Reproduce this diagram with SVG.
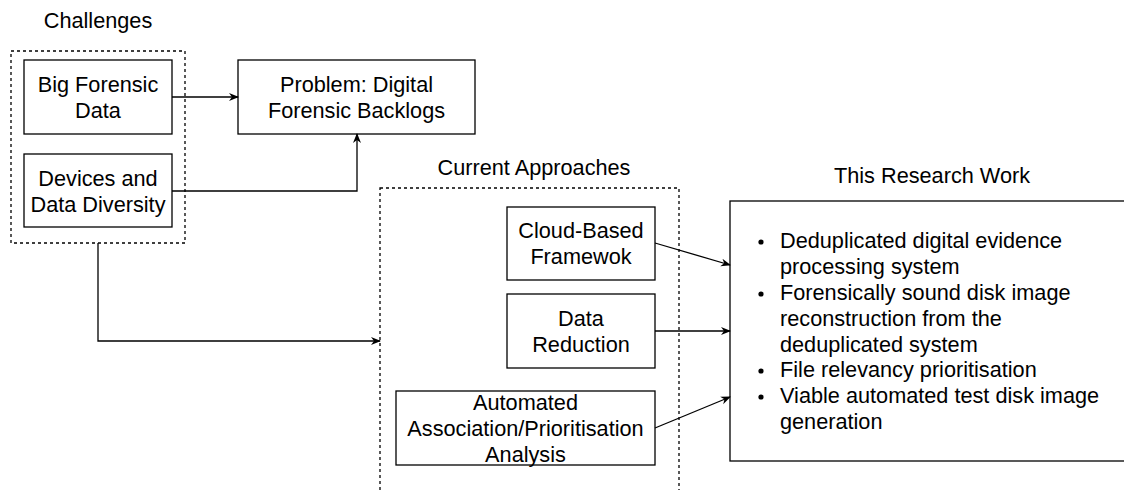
<svg xmlns="http://www.w3.org/2000/svg" width="1124" height="490" viewBox="0 0 1124 490">
  <defs>
    <marker id="arrow" markerWidth="10" markerHeight="10" refX="9" refY="5" orient="auto" markerUnits="userSpaceOnUse">
      <path d="M0,1 L10,5 L0,9 L3,5 Z" fill="#000"/>
    </marker>
  </defs>
  <style>
    .box { fill: #fff; stroke: #000; stroke-width: 1.3; }
    .group { fill: none; stroke: #000; stroke-width: 1.3; stroke-dasharray: 3 3; }
    .edge { fill: none; stroke: #000; stroke-width: 1.3; marker-end: url(#arrow); }
    text { font-family: "Liberation Sans", Arial, Helvetica, sans-serif; font-size: 21.7px; fill: #000; }
    .c { text-anchor: middle; }
  </style>

  <rect width="1124" height="490" fill="#fff"/>

  <!-- group containers -->
  <g id="challenges">
    <text class="c" x="98" y="28">Challenges</text>
    <rect class="group" x="11" y="51" width="174" height="192"/>
  </g>
  <g id="current-approaches">
    <text class="c" x="534" y="175">Current Approaches</text>
    <rect class="group" x="380" y="188" width="299" height="320"/>
  </g>

  <!-- nodes -->
  <g id="big-forensic-data">
    <rect class="box" x="24" y="60" width="148" height="74"/>
    <text class="c" x="98" y="92">Big Forensic</text>
    <text class="c" x="98" y="118">Data</text>
  </g>
  <g id="devices-data-diversity">
    <rect class="box" x="24" y="154" width="148" height="73"/>
    <text class="c" x="98" y="186">Devices and</text>
    <text class="c" x="98" y="212">Data Diversity</text>
  </g>
  <g id="problem">
    <rect class="box" x="238" y="60" width="237" height="74"/>
    <text class="c" x="356.5" y="92">Problem: Digital</text>
    <text class="c" x="356.5" y="118">Forensic Backlogs</text>
  </g>
  <g id="cloud-based">
    <rect class="box" x="507" y="207" width="148" height="73"/>
    <text class="c" x="581" y="238">Cloud-Based</text>
    <text class="c" x="581" y="264">Framewok</text>
  </g>
  <g id="data-reduction">
    <rect class="box" x="507" y="294" width="148" height="74"/>
    <text class="c" x="581" y="326">Data</text>
    <text class="c" x="581" y="352">Reduction</text>
  </g>
  <g id="automated-analysis">
    <rect class="box" x="396" y="391" width="259" height="74"/>
    <text class="c" x="525.5" y="410">Automated</text>
    <text class="c" x="525.5" y="436">Association/Prioritisation</text>
    <text class="c" x="525.5" y="462">Analysis</text>
  </g>
  <g id="research-work">
    <text class="c" x="932" y="183">This Research Work</text>
    <rect class="box" x="730" y="201" width="420" height="260"/>
    <g fill="#000">
      <circle cx="761" cy="242" r="2.6"/>
      <circle cx="761" cy="294" r="2.6"/>
      <circle cx="761" cy="371" r="2.6"/>
      <circle cx="761" cy="397" r="2.6"/>
    </g>
    <text x="780" y="248">Deduplicated digital evidence</text>
    <text x="780" y="274">processing system</text>
    <text x="780" y="300">Forensically sound disk image</text>
    <text x="780" y="325.5">reconstruction from the</text>
    <text x="780" y="351.5">deduplicated system</text>
    <text x="780" y="377">File relevancy prioritisation</text>
    <text x="780" y="403">Viable automated test disk image</text>
    <text x="780" y="428.5">generation</text>
  </g>

  <!-- connectors -->
  <g id="connectors">
    <path class="edge" d="M172,97 H238"/>
    <path class="edge" d="M172,191 H357 V134"/>
    <path class="edge" d="M98,243 V341 H380"/>
    <path class="edge" d="M655,243 L730,265"/>
    <path class="edge" d="M655,331 H730"/>
    <path class="edge" d="M655,428 L730,397"/>
  </g>
</svg>
